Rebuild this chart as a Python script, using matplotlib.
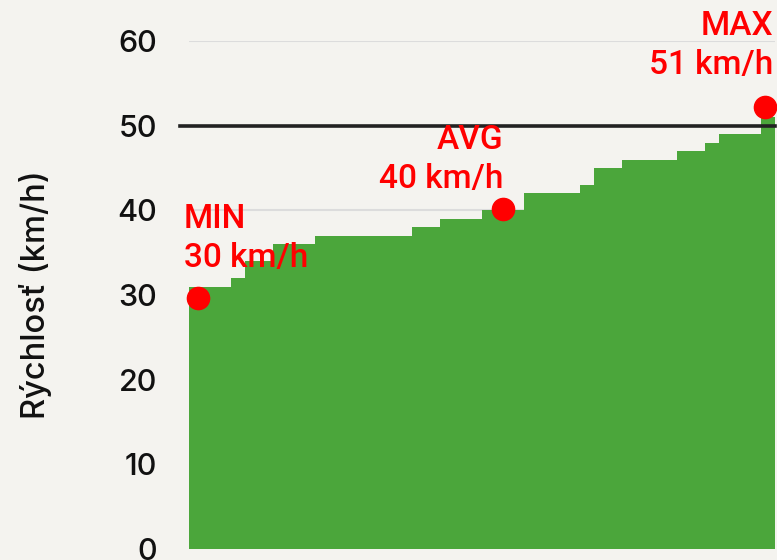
import matplotlib as mpl
import matplotlib.pyplot as plt
import numpy as np

mpl.rcParams['font.family'] = ['Inter', 'DejaVu Sans']

# sorted speeds (km/h), one per unit on the x axis
speeds = [31, 31, 31, 32, 34, 34, 36, 36, 36,
          37, 37, 37, 37, 37, 37, 37, 38, 38,
          39, 39, 39, 40, 40, 40, 42, 42, 42, 42,
          43, 45, 45, 46, 46, 46, 46, 47, 47, 48,
          49, 49, 49, 51]
limit = 50

# marked points: label, value text, x, y
mark_names = ['MIN', 'AVG', 'MAX']
mark_texts = ['30 km/h', '40 km/h', '51 km/h']
mark_x = [0.67, 22.5, 41.3]
mark_y = [29.7, 40.2, 52.2]

bg = '#f4f3ef'
green = '#4ba63b'
red = '#ff0000'

fig = plt.figure(figsize=(7.77, 5.60), dpi=100, facecolor=bg)
ax = fig.add_axes([189/777, 11/560, 586/777, 508/560], facecolor=bg)

n = len(speeds)
x = np.arange(n + 1)
y = speeds + [speeds[-1]]
ax.fill_between(x, 0, y, step='post', color=green, linewidth=0, zorder=2)

ax.set_xlim(0, n)
ax.set_ylim(0, 60)
ax.set_yticks(range(0, 61, 10))
ax.set_xticks([])
ax.yaxis.grid(True, color='#dcdcdc', linewidth=1.5, zorder=0)
for s in ax.spines.values():
    s.set_visible(False)
ax.tick_params(axis='y', length=0, pad=23, labelsize=22, labelcolor='#111111')
for t in ax.get_yticklabels():
    t.set_fontweight('medium')
ax.set_ylabel('Rýchlosť (km/h)', fontsize=23.5, color='#111111', labelpad=47,
              fontweight='medium')

ax.axhline(limit, xmin=-0.0154, xmax=1, color='#222222', linewidth=2.6,
           clip_on=False, zorder=3)

ax.plot(mark_x, mark_y, 'o', color=red, markersize=16, clip_on=False, zorder=5)

tf = dict(family=['Roboto', 'DejaVu Sans'], fontsize=24, color=red,
          fontweight='medium')
# MIN
ax.text(-0.35, 37.9, mark_names[0], ha='left', va='baseline', **tf)
ax.text(-0.35, 33.3, mark_texts[0], ha='left', va='baseline', **tf)
# AVG
ax.text(22.55, 47.2, mark_names[1], ha='right', va='baseline', **tf)
ax.text(22.55, 42.6, mark_texts[1], ha='right', va='baseline', **tf)
# MAX
ax.text(41.9, 60.7, mark_names[2], ha='right', va='baseline', clip_on=False, **tf)
ax.text(41.9, 56.1, mark_texts[2], ha='right', va='baseline', clip_on=False, **tf)

plt.savefig('out.png', dpi=100, facecolor=bg)
